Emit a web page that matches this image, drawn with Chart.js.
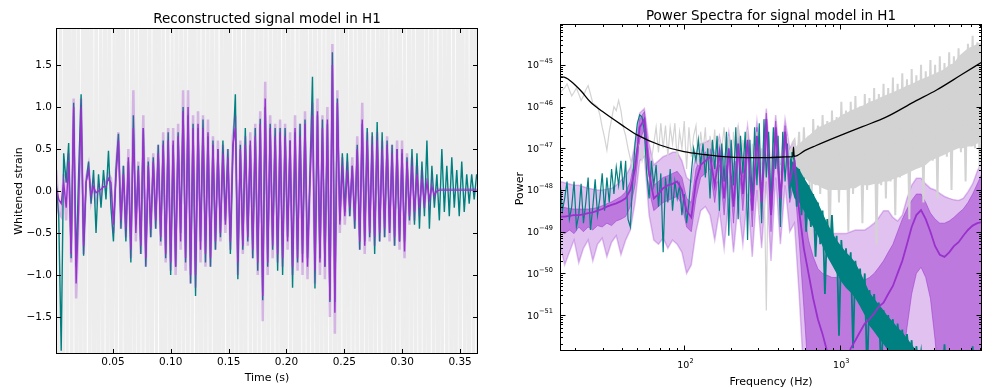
<!DOCTYPE html>
<html>
<head>
<meta charset="utf-8">
<script src="https://cdn.jsdelivr.net/npm/chart.js@4.4.0/dist/chart.umd.min.js"></script>
<style>
  html, body { margin: 0; padding: 0; background: #fff; }
  #wrap { position: relative; width: 1000px; height: 388px; }
  canvas { position: absolute; top: 0; }
  #strainChart { left: 0; }
  #powerChart { left: 500px; }
</style>
</head>
<body>
<div id="wrap">
  <canvas id="strainChart" width="500" height="388"></canvas>
  <canvas id="powerChart" width="500" height="388"></canvas>
</div>
<script>
var FONT = '"DejaVu Sans", sans-serif';

// ---- left panel: whitened strain vs time ----
var strainStart = 0.001, strainStep = 0.00215;
var noiseStart = 0.0008, noiseStep = 0.00193;

// reconstruction from the data (teal)
var dataStrain = [
  0.1,-0.3,-1.9,0.45,0.1,0.57,-0.8,1.05,-0.9,0.2,1.15,-0.77,0.1,0.35,-0.15,0.25,-0.5,0.2,-0.2,0.25,
  -0.1,0.48,-0.2,-0.6,0.25,0.68,-0.45,0.3,-0.6,0.35,-0.85,0.9,-0.4,0.3,-0.75,0.75,-0.9,0.35,-0.55,0.4,
  -0.45,0.55,-0.6,0.6,-0.8,0.7,-1.0,0.55,-0.9,0.7,-0.5,1.0,-0.85,0.9,-1.1,0.8,-1.25,0.75,-0.6,0.85,
  -0.85,0.65,-0.9,0.6,-0.7,0.5,-0.55,0.6,-0.35,0.5,-0.75,0.45,1.15,-1.05,0.55,-0.7,0.75,-0.6,0.55,-0.8,
  0.75,-0.95,0.86,-1.3,1.0,-0.9,0.8,-0.7,0.75,-0.95,0.75,-1.0,0.75,-0.55,0.6,-1.15,0.7,-0.85,0.8,-0.75,
  0.85,-0.8,0.2,1.36,-1.16,0.9,-0.8,0.85,-0.9,0.8,-1.32,1.65,-1.32,1.1,-0.35,0.45,-0.25,0.45,-0.3,0.3,
  -0.45,0.55,-0.7,0.8,-0.6,0.75,-0.55,0.7,-0.75,0.82,-0.6,0.7,-0.55,0.6,-0.5,0.55,-0.65,0.5,-0.6,0.45,
  -0.6,0.4,-0.35,0.5,-0.4,0.45,-0.45,0.35,-0.3,0.6,-0.45,0.3,-0.2,0.2,-0.35,0.5,-0.25,0.3,-0.3,0.4,
  -0.2,0.25,-0.3,0.35,-0.25,0.2,-0.15,0.2,-0.1,0.2
];
// signal model median (purple)
var modelStrain = [
  0.05,-0.1,-0.15,0.1,-0.2,0.35,-0.75,1.0,-1.1,-0.2,1.0,-0.65,0.1,0.25,-0.05,0.05,-0.02,0.0,0.02,0.05,
  0.05,0.15,0.1,-0.4,0.15,0.6,-0.35,0.2,-0.45,0.4,-0.7,0.75,-0.5,0.25,-0.65,0.75,-0.8,0.3,-0.45,0.35,
  -0.35,0.45,-0.55,0.55,-0.75,0.6,-0.85,0.6,-0.9,0.65,-0.6,0.95,-0.8,1.0,-1.0,0.75,-1.0,0.8,-0.7,0.75,
  -0.75,0.7,-0.8,0.55,-0.6,0.5,-0.5,0.45,-0.4,0.4,-0.6,0.55,0.75,-0.85,0.5,-0.65,0.55,-0.55,0.6,-0.7,
  0.65,-0.85,0.8,-1.25,1.1,-0.85,0.75,-0.65,0.65,-0.75,0.7,-0.8,0.65,-0.6,0.6,-0.9,0.75,-0.8,0.65,-0.85,
  0.8,-0.9,0.1,0.9,-0.95,0.95,-0.85,0.75,-0.9,0.85,-1.3,1.5,-1.45,1.05,-0.4,0.3,-0.3,0.25,-0.2,0.3,
  -0.35,0.5,-0.6,0.85,-0.65,0.6,-0.5,0.55,-0.55,0.6,-0.5,0.5,-0.45,0.55,-0.5,0.45,-0.55,0.5,-0.6,0.5,
  -0.72,0.35,-0.3,0.3,-0.25,0.2,-0.2,0.15,-0.15,0.1,-0.1,0.05,-0.05,0.0,0.01,0.01,0.01,0.01,0.01,0.01,
  0.01,0.01,0.01,0.01,0.01,0.01,0.01,0.01,0.01,0.01
];
// outer edge of the model credible band (light purple)
var modelBand = [
  0.25,-0.25,-0.3,0.2,-0.35,0.45,-0.85,1.1,-1.28,-0.3,1.1,-0.75,0.15,0.3,-0.1,0.1,-0.1,0.05,-0.05,0.1,
  0.1,0.2,0.15,-0.5,0.25,0.7,-0.45,0.3,-0.55,0.5,-0.8,1.2,-0.6,0.35,-0.75,0.9,-0.9,0.4,-0.55,0.45,
  -0.45,0.55,-0.65,0.7,-0.85,0.75,-0.95,0.75,-1.0,0.8,-0.7,1.2,-0.95,1.2,-1.1,0.9,-1.15,0.95,-0.85,0.9,
  -0.9,0.85,-0.9,0.65,-0.7,0.6,-0.6,0.55,-0.5,0.5,-0.7,0.65,0.9,-1.0,0.6,-0.75,0.65,-0.65,0.7,-0.8,
  0.8,-1.0,0.95,-1.55,1.3,-1.0,0.9,-0.8,0.8,-0.85,0.85,-0.9,0.8,-0.7,0.7,-1.0,0.9,-0.95,0.8,-1.0,
  0.95,-1.05,0.15,1.05,-1.1,1.1,-1.0,0.9,-1.05,1.0,-1.5,1.75,-1.7,1.2,-0.5,0.4,-0.4,0.35,-0.3,0.4,
  -0.45,0.65,-0.7,1.05,-0.75,0.7,-0.6,0.65,-0.65,0.7,-0.6,0.6,-0.55,0.65,-0.6,0.55,-0.65,0.6,-0.7,0.6,
  -0.8,0.45,-0.4,0.4,-0.35,0.3,-0.3,0.25,-0.2,0.15,-0.15,0.1,-0.08,0.03,0.02,0.02,0.02,0.02,0.02,0.02,
  0.02,0.02,0.02,0.02,0.02,0.02,0.02,0.02,0.02,0.02
];
// whitened detector data (light grey, mostly off the scale)
var whitenedData = [
  3.2,-4.1,2.6,-5.3,4.4,-2.2,3.8,-3.5,5.1,-2.9,2.4,-4.6,3.3,-3.1,6.2,-2.7,2.9,-5.0,3.6,-3.9,
  2.3,-2.6,4.7,-3.3,3.1,-4.4,2.5,-2.4,5.4,-3.8,3.9,-2.8,2.2,-5.6,4.1,-3.0,2.8,-3.6,3.5,-2.5,
  4.9,-4.2,2.7,-3.4,3.0,-2.3,5.8,-3.7,2.6,-4.8,3.4,-2.9,2.1,-3.2,4.5,-5.1,3.7,-2.6,2.9,-3.9,
  3.3,-2.4,5.2,-3.1,2.4,-4.3,3.8,-3.6,2.7,-2.8,4.3,-3.5,3.0,-5.4,2.5,-2.7,6.0,-3.3,3.2,-4.0,
  2.8,-2.5,3.9,-4.7,2.3,-3.0,4.6,-2.8,3.6,-3.8,2.6,-2.4,5.0,-4.5,3.1,-2.9,2.9,-3.4,4.2,-2.6,
  3.4,-5.2,2.5,-3.3,4.8,-2.7,3.0,-3.9,2.2,-4.1,5.5,-2.8,3.7,-3.2,2.6,-2.5,4.0,-4.6,3.2,-3.0,
  2.4,-3.7,4.4,-2.6,3.3,-5.0,2.8,-3.1,5.3,-2.9,2.7,-4.2,3.5,-2.4,2.3,-3.6,4.7,-3.3,3.0,-2.7,
  2.9,-4.9,3.8,-3.1,2.5,-2.6,5.6,-3.8,3.1,-4.4,2.6,-2.8,4.1,-3.5,3.4,-2.5,2.2,-5.3,4.6,-3.0,
  2.8,-3.4,3.6,-2.9,5.1,-4.0,2.4,-3.2,3.9,-2.6,3.0,-4.7,2.7,-3.0,4.3,-2.8,3.2,-3.7,2.5,-4.1,
  3.5,-2.7,4.8,-3.3,2.6,-3.9,3.1,-2.5,5.0,-4.3
];
var timeTicks = [0.05, 0.10, 0.15, 0.20, 0.25, 0.30, 0.35];
var timeTickLabels = ['0.05', '0.10', '0.15', '0.20', '0.25', '0.30', '0.35'];
var strainTicks = [-1.5, -1.0, -0.5, 0.0, 0.5, 1.0, 1.5];
var strainTickLabels = ['\u22121.5', '\u22121.0', '\u22120.5', '0.0', '0.5', '1.0', '1.5'];

// ---- right panel: power spectra ----
// fine grid: 20 points per octave from 16 Hz, band grid: 10 points per octave
var fineCount = 181, finePerOctave = 20;
var bandCount = 91, bandPerOctave = 10;
var denseFrom = 49; // band-grid index (~478 Hz) where the spectra turn into a dense mass

var dataPower = [
  2e-46,2.5e-46,2.8e-46,3.5e-46,2.5e-46,1.8e-46,2.2e-46,2.8e-46,2e-46,1.4e-46,
  1.8e-46,2.5e-46,3.2e-46,2e-46,1.2e-46,1.1e-46,1e-46,6.3e-47,3.2e-47,1.8e-47,
  9e-48,2.5e-47,5e-47,1e-46,8e-47,1.4e-46,8e-47,3.2e-47,2e-47,1e-47,
  5.6e-48,3.5e-48,8e-48,1.4e-47,1.1e-47,5e-48,1e-47,3.2e-48,1.6e-48,5e-48,
  1.3e-47,3.2e-47,8e-48,4e-47,1e-47,3.5e-47,6.3e-48,3.2e-47,1.3e-47,4e-47,
  5e-48,2.5e-47,1e-47,4.5e-47,3.2e-48,3.2e-47,6.3e-48,2e-47,3.5e-47,4e-48,
  2.5e-47,8e-48,3.2e-47,2.5e-48,2e-47,6.3e-48,2.8e-47,1.6e-48,1.6e-47,1e-47,
  3.2e-47,4e-48,2e-47,1.3e-48,2.5e-47,5e-48,3.5e-47,2e-48,1.6e-47,6.3e-48,
  2.8e-47,6.3e-49,1.3e-47,3.2e-48,2.5e-47,2.5e-49,1e-47,4e-48,1.3e-51,2e-47,
  2.5e-48,2.5e-47,5e-48,1.8e-47,1e-48,1.3e-47,3.2e-48,2e-47,1.6e-48,1.3e-47,
  1.6e-47,2.5e-48,2.5e-47,4e-49,3.2e-47,2e-48,2e-47,6.3e-50,5e-47,1.3e-48,
  3.5e-47,8e-49,6.3e-47,1.6e-48,4.5e-47,3.2e-50,8e-47,1e-48,5.6e-47,5e-49,
  1.3e-46,1.3e-48,8e-47,1e-49,1.3e-46,8e-49,1.8e-46,1.3e-48,1e-46,1.6e-49,
  2e-46,1e-48,1.6e-46,1.6e-48,2.8e-46,5e-50,2e-46,1.3e-48,3.5e-46,6.3e-49,
  2.8e-46,1.6e-48,5e-46,2.5e-49,3.5e-46,2e-48,6.3e-46,2.5e-48,4.5e-46,2e-49,
  8e-46,3.2e-48,5.6e-46,4e-48,1e-45,5e-49,7e-46,5e-48,1.3e-45,5e-48,
  1e-45,6.3e-49,1.6e-45,8e-48,1.1e-45,6.3e-48,2e-45,1e-48,1.6e-45,1e-47,
  2.5e-45,8e-48,1.8e-45,1.6e-48,3.2e-45,1.3e-47,5e-45,1e-47,3.5e-45,3.2e-48,
  5e-45
];
// solid core of the dense data spectrum, on the band grid from denseFrom
var dataPowerTop = [
  1e-47,1e-47,1.3e-47,1.6e-47,2e-47,2.5e-47,3.2e-47,3.5e-47,4e-47,4.5e-47,
  5e-47,6.3e-47,7e-47,8e-47,9e-47,1e-46,1.1e-46,1.3e-46,1.4e-46,1.6e-46,
  1.8e-46,2e-46,2.2e-46,2.5e-46,2.8e-46,3.2e-46,3.5e-46,4e-46,4.5e-46,5e-46,
  5.6e-46,6.3e-46,7e-46,8e-46,1e-45,1.1e-45,1.6e-45,2e-45,2.5e-45,2.8e-45,
  3.2e-45,3.5e-45
];
var dataPowerBottom = [
  5e-48,3.2e-48,2.5e-48,2e-48,1.6e-48,1.4e-48,1.3e-48,1.1e-48,1e-48,1e-48,
  1e-48,1e-48,1e-48,1.1e-48,1.1e-48,1.3e-48,1.3e-48,1.3e-48,1.4e-48,1.4e-48,
  1.6e-48,1.6e-48,1.8e-48,2e-48,2.2e-48,2.5e-48,2.8e-48,3.2e-48,3.5e-48,4e-48,
  5e-48,5.6e-48,6.3e-48,7e-48,8e-48,9e-48,1e-47,1e-47,1.1e-47,1.1e-47,
  1.3e-47,1.3e-47
];
var reconPower = [
  1.6e-48,3.2e-49,6.3e-49,1.6e-48,2e-49,4e-49,1.6e-48,1.3e-49,2.5e-49,1.4e-48,
  1.6e-49,5e-49,2e-48,1.1e-49,4e-49,1.8e-48,2.5e-49,6.3e-49,2.5e-48,3.2e-49,
  2e-48,5e-49,3.2e-48,8e-49,3.5e-48,1.3e-48,5e-48,1e-48,5e-48,2e-49,
  1.3e-49,1.6e-48,1.3e-47,4e-47,6.3e-47,5.6e-47,2.5e-47,2.5e-48,6.3e-49,5e-48,
  1.3e-48,4e-48,4e-49,2.5e-48,3.2e-50,2e-48,5e-49,3.2e-48,3.2e-49,1.6e-48,
  6.3e-49,1.3e-48,2.5e-49,8e-49,1.6e-49,5e-49,2.5e-48,1e-47,5e-48,1.6e-47,
  4e-48,1.3e-47,2e-48,1e-47,6.3e-49,1.6e-47,3.2e-48,2e-47,3.2e-49,1.3e-47,
  1.6e-48,2.5e-47,8e-50,1.6e-47,1.3e-48,3.2e-47,2e-49,2e-47,2.5e-48,2.5e-47,
  6.3e-50,1.6e-47,5e-49,3.2e-47,1.3e-48,4e-47,1.6e-49,5e-47,2e-48,2.5e-47,
  4e-49,3.2e-47,3.2e-48,2e-47,1.3e-49,2.5e-47,1.6e-48,1.3e-47,6.3e-49,8e-48,
  5e-48,4e-49,3.2e-48,2.5e-49,2e-48,1e-49,1.3e-48,1.3e-49,8e-49,2.5e-50,
  5e-49,5e-50,3.2e-49,3.2e-51,2e-49,2.5e-50,2.5e-49,1.6e-50,8e-50,3.2e-52,
  6.3e-50,8e-51,4e-50,5e-51,3.2e-50,1.6e-52,2e-50,3.2e-51,1.3e-50,1.6e-51,
  1e-50,3.2e-53,4e-51,8e-52,3.2e-51,5e-52,2e-51,3.2e-53,1.3e-51,2.5e-52,
  1e-51,2e-52,8e-52,2.5e-53,6.3e-52,1.6e-52,4.5e-52,4e-53,3.5e-52,1e-52,
  2.5e-52,2.5e-53,1.8e-52,5e-53,1.3e-52,2.5e-53,1.1e-52,2.5e-53,6.3e-53,2e-53,
  5e-53,1.6e-53,4e-53,1.6e-53,2e-52,1.6e-53,3.2e-53,1.3e-53,2.5e-53,1.3e-53,
  2.5e-53,1e-53,2e-53,1e-53,2e-53,1e-53,1.8e-52,1e-53,1.6e-53,1e-53,
  1.6e-53
];
// solid core of the dense reconstruction spectrum, on the band grid from denseFrom
var reconPowerTop = [
  6.3e-48,4e-48,3.2e-48,2e-48,1.3e-48,8e-49,5e-49,2.8e-49,1.6e-49,1e-49,
  6.3e-50,4.5e-50,3.2e-50,2.5e-50,1.8e-50,1.1e-50,6.3e-51,3.5e-51,2.5e-51,1.8e-51,
  1.3e-51,9e-52,7e-52,5e-52,4e-52,2.8e-52,2e-52,1.4e-52,1e-52,6.3e-53,
  3.2e-53,3.2e-53,3.2e-53,3.2e-53,3.2e-53,3.2e-53,3.2e-53,3.2e-53,3.2e-53,3.2e-53,
  3.2e-53,3.2e-53
];
var reconPowerBottom = [
  1.6e-48,6.3e-49,5e-49,3.2e-49,2e-49,1.3e-49,8e-50,4.5e-50,2.5e-50,1.6e-50,
  1e-50,6.3e-51,4.5e-51,3.5e-51,2.5e-51,1.6e-51,1e-51,5.6e-52,4e-52,2.8e-52,
  2e-52,1.4e-52,1e-52,3.2e-53,3.2e-53,3.2e-53,3.2e-53,3.2e-53,3.2e-53,3.2e-53,
  3.2e-53,3.2e-53,3.2e-53,3.2e-53,3.2e-53,3.2e-53,3.2e-53,3.2e-53,3.2e-53,3.2e-53,
  3.2e-53,3.2e-53
];
var modelMedian = [
  2.3e-49,2.3e-49,2.4e-49,2.5e-49,2.5e-49,2.6e-49,2.8e-49,2.9e-49,3.2e-49,3.5e-49,
  4e-49,4.4e-49,4.8e-49,5.4e-49,6.3e-49,1e-48,3.2e-48,3.2e-47,5e-47,2.5e-48,
  6.3e-49,8e-49,1.1e-48,1.3e-48,1.4e-48,1.6e-48,1e-48,3.2e-49,2.2e-49,1.6e-48,
  4e-48,5e-48,6.3e-48,1.3e-48,8e-48,6.3e-49,1e-47,4e-49,1.3e-47,8e-49,
  1.6e-47,3.2e-49,2e-47,5e-49,5e-47,2.5e-49,3.2e-47,6.3e-49,2.5e-47,1.6e-48,
  5e-48,3.2e-49,4e-50,1e-50,2.5e-51,8e-52,3.5e-52,1.3e-52,6.3e-53,4e-53,
  3.2e-53,6.3e-53,1.6e-52,2.5e-52,4e-52,6.3e-52,8e-52,1.1e-51,1.6e-51,2e-51,
  3.2e-51,5e-51,1e-50,2e-50,5e-50,1.3e-49,2.5e-49,3.3e-49,2e-49,1e-49,
  4.5e-50,2.8e-50,2.5e-50,3.2e-50,4.5e-50,5.6e-50,8e-50,1.1e-49,1.4e-49,1.6e-49,
  1.7e-49
];
var modelHi50 = [
  4e-49,3.8e-49,3.6e-49,3.5e-49,3.5e-49,3.5e-49,3.5e-49,3.6e-49,3.8e-49,4.2e-49,
  4.7e-49,5.2e-49,6e-49,7e-49,9e-49,1.6e-48,6.3e-48,5e-47,7.6e-47,6.3e-48,
  1.3e-48,1.6e-48,2e-48,2.2e-48,2.5e-48,2.8e-48,2e-48,6.3e-49,5e-49,3.2e-48,
  6.3e-48,8e-48,1e-47,3.2e-48,1.3e-47,1.6e-48,1.6e-47,1.3e-48,2e-47,2e-48,
  2.5e-47,1e-48,3.2e-47,1.3e-48,7e-47,8e-49,4.5e-47,1.6e-48,3.5e-47,4e-48,
  1e-47,1.6e-48,3.2e-49,6.3e-50,2.5e-50,1.3e-50,1e-50,9e-51,8e-51,8e-51,
  8e-51,7.6e-51,7e-51,7e-51,7e-51,7e-51,8e-51,1e-50,1.4e-50,2e-50,
  3.2e-50,5e-50,1e-49,2e-49,3.5e-49,5.6e-49,8e-49,8e-49,5e-49,2.8e-49,
  2e-49,1.6e-49,1.6e-49,1.8e-49,2.2e-49,2.8e-49,3.5e-49,5e-49,8e-49,1.4e-48,
  2.5e-48
];
var modelLo50 = [
  1e-49,9e-50,1.1e-49,9e-50,1.3e-49,1e-49,1.3e-49,1.1e-49,1.4e-49,1.3e-49,
  1.6e-49,1.4e-49,1.8e-49,2e-49,2.3e-49,4e-49,1.3e-48,1.6e-47,2.8e-47,1e-48,
  3.2e-49,4e-49,5e-49,5.6e-49,6.3e-49,7e-49,4.5e-49,1.3e-49,1e-49,6.3e-49,
  2e-48,2.5e-48,3.2e-48,5e-49,4e-48,2.5e-49,5e-48,1.6e-49,6.3e-48,3.2e-49,
  8e-48,1.3e-49,1e-47,2e-49,2.5e-47,1e-49,1.6e-47,2.5e-49,1.3e-47,5e-49,
  1.6e-48,6.3e-50,1.6e-51,3.2e-53,1e-54,1e-54,1e-54,1e-54,1e-54,1e-54,
  1e-54,1e-54,1e-54,1e-54,1e-54,1e-54,1e-54,1e-54,1e-54,1e-54,
  1e-54,1e-54,1e-54,6.3e-53,5e-52,3.2e-51,1e-50,1.4e-50,8e-51,2.5e-51,
  2.5e-52,1e-53,1e-54,1e-54,1e-54,1e-54,1e-54,1e-54,1e-54,1e-54,
  1e-54
];
var modelHi90 = [
  1.6e-48,1.5e-48,1.4e-48,1.3e-48,1.3e-48,1.2e-48,1.1e-48,1.05e-48,1e-48,1e-48,
  1.05e-48,1.1e-48,1.3e-48,1.7e-48,2.2e-48,3.5e-48,1.3e-47,7e-47,9e-47,1.3e-47,
  4e-48,5e-48,6.3e-48,7e-48,8e-48,8e-48,5e-48,2e-48,1.6e-48,8e-48,
  1.3e-47,1.4e-47,1.6e-47,8e-48,2e-47,5e-48,2.5e-47,4e-48,3.2e-47,5e-48,
  3.5e-47,3.2e-48,4.5e-47,4e-48,9e-47,2.5e-48,6.3e-47,4e-48,5e-47,1e-47,
  1.6e-47,3.2e-48,1e-48,3.2e-49,1.8e-49,1.3e-49,1e-49,9e-50,9e-50,9e-50,
  9e-50,9e-50,1e-49,1.1e-49,1.1e-49,1.1e-49,1.3e-49,1.6e-49,2.2e-49,3.2e-49,
  3.2e-49,2.2e-49,1.8e-49,2.5e-49,6.3e-49,1.3e-48,1.9e-48,1.9e-48,1.4e-48,1.1e-48,
  1e-48,8.3e-49,7e-49,6.3e-49,5.8e-49,5.6e-49,6.3e-49,9e-49,1.4e-48,2.8e-48,
  5e-48
];
var modelLo90 = [
  5e-50,1.6e-50,3.2e-50,6.3e-50,1.8e-50,4e-50,6.3e-50,2e-50,5e-50,7e-50,
  2.5e-50,5.6e-50,8e-50,2.8e-50,6.3e-50,1.1e-49,5e-49,5e-48,6.3e-48,2.5e-49,
  6.3e-50,5e-50,7e-50,4e-50,6.3e-50,5e-50,3.2e-50,1e-50,1.6e-50,1e-49,
  3.2e-49,4e-49,2.5e-49,6.3e-50,3.2e-49,4e-50,6.3e-49,3.2e-50,5e-49,5e-50,
  8e-49,2.5e-50,1e-48,4e-50,1.6e-48,2e-50,2e-48,5e-50,1.3e-48,1e-49,
  1.6e-49,3.2e-51,3.2e-53,1e-54,1e-54,1e-54,1e-54,1e-54,1e-54,1e-54,
  1e-54,1e-54,1e-54,1e-54,1e-54,1e-54,1e-54,1e-54,1e-54,1e-54,
  1e-54,1e-54,1e-54,1e-54,1e-54,1e-54,1e-54,1e-54,1e-54,1e-54,
  1e-54,1e-54,1e-54,1e-54,1e-54,1e-54,1e-54,1e-54,1e-54,1e-54,
  1e-54
];
// noise PSD (black curve)
var asdFreq = [16, 17, 18, 20, 22, 25, 30, 40, 50, 70, 100, 140, 180, 250, 350, 450, 500, 505, 510, 600, 700, 966, 1400, 2013, 3000, 4188, 6000, 8192];
var asdPower = [5.2e-46, 5.1e-46, 4.6e-46, 3.3e-46, 2.3e-46, 1.3e-46, 7.6e-47, 3.6e-47, 2.1e-47, 1.2e-47, 8.3e-48, 7e-48, 6.3e-48, 6e-48, 6e-48, 6.2e-48, 6.3e-48, 1.07e-47, 6.4e-48, 8.9e-48, 1.15e-47, 1.9e-47, 3.3e-47, 5.75e-47, 1.3e-46, 2.5e-46, 5.7e-46, 1.17e-45];

var freqTicks = [100, 1000];
var freqTickExps = ['2', '3'];
var powerTicks = [1e-51, 1e-50, 1e-49, 1e-48, 1e-47, 1e-46, 1e-45];
var powerTickExps = ['\u221251', '\u221250', '\u221249', '\u221248', '\u221247', '\u221246', '\u221245'];

// ---- helpers ----
function pairs(xs, ys) {
  return ys.map(function (y, i) { return { x: xs[i], y: y }; });
}
function regular(start, step, n) {
  var out = [];
  for (var i = 0; i < n; i++) out.push(start + i * step);
  return out;
}
function octaves(start, perOctave, n) {
  var out = [];
  for (var i = 0; i < n; i++) out.push(start * Math.pow(2, i / perOctave));
  return out;
}
function logMinors(lo, hi) {
  var out = [];
  for (var e = Math.floor(Math.log10(lo)) - 1; e <= Math.ceil(Math.log10(hi)); e++) {
    for (var m = 2; m <= 9; m++) {
      var v = m * Math.pow(10, e);
      if (v > lo && v < hi) out.push(v);
    }
  }
  return out;
}
// dense part of a spectrum (above ~480 Hz) is drawn with a heavier stroke
function denseWidth(thin, thick) {
  return function (c) { return c.p0.parsed.x >= 480 ? thick : thin; };
}

function axisFrame(cfg) {
  return {
    id: 'axisFrame',
    afterDraw: function (chart) {
      var ctx = chart.ctx, a = chart.chartArea;
      var sx = chart.scales.x, sy = chart.scales.y;
      var L = Math.round(a.left) + 0.5, R = Math.round(a.right) - 0.5;
      var T = Math.round(a.top) + 0.5, B = Math.round(a.bottom) - 0.5;
      ctx.save();
      ctx.strokeStyle = '#000';
      ctx.lineWidth = 1;
      ctx.beginPath();
      function xTick(v, len) {
        var p = Math.round(sx.getPixelForValue(v)) + 0.5;
        ctx.moveTo(p, B); ctx.lineTo(p, B - len);
        ctx.moveTo(p, T); ctx.lineTo(p, T + len);
      }
      function yTick(v, len) {
        var p = Math.round(sy.getPixelForValue(v)) + 0.5;
        ctx.moveTo(L, p); ctx.lineTo(L + len, p);
        ctx.moveTo(R, p); ctx.lineTo(R - len, p);
      }
      cfg.xMajor.forEach(function (v) { xTick(v, cfg.major); });
      (cfg.xMinor || []).forEach(function (v) { xTick(v, cfg.minor); });
      cfg.yMajor.forEach(function (v) { yTick(v, cfg.major); });
      (cfg.yMinor || []).forEach(function (v) { yTick(v, cfg.minor); });
      ctx.stroke();
      ctx.strokeRect(L, T, R - L, B - T);
      ctx.fillStyle = '#000';
      cfg.labels(ctx, a, sx, sy);
      ctx.restore();
    }
  };
}

function drawPow(ctx, exp, x, y, anchor) {
  ctx.font = '9.5px ' + FONT;
  var wb = ctx.measureText('10').width;
  ctx.font = '6.6px ' + FONT;
  var we = ctx.measureText(exp).width;
  var x0 = anchor === 'right' ? x - wb - we : x - (wb + we) / 2;
  ctx.textAlign = 'left';
  ctx.textBaseline = 'middle';
  ctx.font = '9.5px ' + FONT;
  ctx.fillText('10', x0, y);
  ctx.font = '6.6px ' + FONT;
  ctx.fillText(exp, x0 + wb, y - 4.5);
}

function rotated(ctx, text, x, y) {
  ctx.save();
  ctx.translate(x, y);
  ctx.rotate(-Math.PI / 2);
  ctx.textAlign = 'center';
  ctx.textBaseline = 'alphabetic';
  ctx.fillText(text, 0, 0);
  ctx.restore();
}

var baseOptions = function (padding, xScale, yScale) {
  return {
    responsive: false,
    animation: false,
    events: [],
    layout: { padding: padding },
    plugins: { legend: { display: false }, tooltip: { enabled: false } },
    scales: { x: xScale, y: yScale },
    elements: { point: { radius: 0 }, line: { tension: 0 } }
  };
};

// ---- left chart ----
var strainTime = regular(strainStart, strainStep, dataStrain.length);
var noiseTime = regular(noiseStart, noiseStep, whitenedData.length);

new Chart(document.getElementById('strainChart'), {
  type: 'line',
  data: {
    datasets: [
      { data: pairs(strainTime, modelStrain), borderColor: '#9932cc', borderWidth: 1.4, order: 0, clip: 0 },
      { data: pairs(strainTime, modelBand), borderColor: 'rgba(153,50,204,0.3)', borderWidth: 2.5, order: 1, clip: 0 },
      { data: pairs(strainTime, dataStrain), borderColor: '#008080', borderWidth: 1.4, order: 2, clip: 0 },
      { data: pairs(noiseTime, whitenedData), borderColor: '#ededed', borderWidth: 2.9, order: 3, clip: 0 }
    ]
  },
  options: baseOptions(
    { left: 56, top: 28, right: 22, bottom: 34 },
    { type: 'linear', min: 0.0008, max: 0.3655, display: false },
    { type: 'linear', min: -1.94, max: 1.94, display: false }
  ),
  plugins: [axisFrame({
    xMajor: timeTicks, yMajor: strainTicks, major: 4.5, minor: 0,
    labels: function (ctx, a, sx, sy) {
      ctx.font = '10.5px ' + FONT;
      ctx.textAlign = 'center';
      ctx.textBaseline = 'middle';
      timeTicks.forEach(function (v, k) { ctx.fillText(timeTickLabels[k], sx.getPixelForValue(v), a.bottom + 8.5); });
      ctx.textAlign = 'right';
      strainTicks.forEach(function (v, k) { ctx.fillText(strainTickLabels[k], a.left - 4, sy.getPixelForValue(v)); });
      ctx.font = '13.5px ' + FONT;
      ctx.textAlign = 'center';
      ctx.textBaseline = 'alphabetic';
      ctx.fillText('Reconstructed signal model in H1', (a.left + a.right) / 2, 22.7);
      ctx.font = '11px ' + FONT;
      ctx.fillText('Time (s)', (a.left + a.right) / 2, 380.5);
      rotated(ctx, 'Whitened strain', 21.5, (a.top + a.bottom) / 2);
    }
  })]
});

// ---- right chart ----
var fineFreq = octaves(16, finePerOctave, fineCount);
var bandFreq = octaves(16, bandPerOctave, bandCount);
var denseFreq = bandFreq.slice(denseFrom);
var darkBand = 'rgba(153,50,204,0.5)';
var lightBand = 'rgba(153,50,204,0.3)';

new Chart(document.getElementById('powerChart'), {
  type: 'line',
  data: {
    datasets: [
      { data: pairs(asdFreq, asdPower), borderColor: '#000', borderWidth: 1.3, cubicInterpolationMode: 'monotone', order: 0, clip: 0 },
      { data: pairs(bandFreq, modelMedian), borderColor: '#9932cc', borderWidth: 1.8, order: 1, clip: 0 },
      { data: pairs(fineFreq, reconPower), borderColor: '#008080', borderWidth: 1.2, order: 2, clip: 0,
        segment: { borderWidth: denseWidth(1.2, 1.8) } },
      { data: pairs(fineFreq, dataPower), borderColor: '#d3d3d3', borderWidth: 1.2, order: 4, clip: 0,
        segment: { borderWidth: denseWidth(1.2, 2.0) } },
      { data: pairs(bandFreq, modelLo50), borderColor: darkBand, borderWidth: 1, fill: false, order: 6, clip: 0 },
      { data: pairs(bandFreq, modelHi50), borderColor: darkBand, backgroundColor: darkBand, borderWidth: 1, fill: 4, order: 6, clip: 0 },
      { data: pairs(bandFreq, modelLo90), borderColor: lightBand, borderWidth: 1.5, fill: false, order: 7, clip: 0 },
      { data: pairs(bandFreq, modelHi90), borderColor: lightBand, backgroundColor: lightBand, borderWidth: 1.5, fill: 6, order: 7, clip: 0 },
      { data: pairs(denseFreq, reconPowerBottom), borderWidth: 0, fill: false, order: 3, clip: 0 },
      { data: pairs(denseFreq, reconPowerTop), borderWidth: 0, backgroundColor: '#008080', fill: 8, order: 3, clip: 0 },
      { data: pairs(denseFreq, dataPowerBottom), borderWidth: 0, fill: false, order: 5, clip: 0 },
      { data: pairs(denseFreq, dataPowerTop), borderWidth: 0, backgroundColor: '#d3d3d3', fill: 10, order: 5, clip: 0 }
    ]
  },
  options: baseOptions(
    { left: 60, top: 24, right: 18, bottom: 37 },
    { type: 'logarithmic', min: 16, max: 8192, display: false },
    { type: 'logarithmic', min: 1.38e-52, max: 9.55e-45, display: false }
  ),
  plugins: [axisFrame({
    xMajor: freqTicks, yMajor: powerTicks, major: 5, minor: 2.5,
    xMinor: logMinors(16, 8192), yMinor: logMinors(1.38e-52, 9.55e-45),
    labels: function (ctx, a, sx, sy) {
      freqTicks.forEach(function (v, k) { drawPow(ctx, freqTickExps[k], sx.getPixelForValue(v) + 1.5, a.bottom + 14.5, 'center'); });
      powerTicks.forEach(function (v, k) { drawPow(ctx, powerTickExps[k], a.left - 7, sy.getPixelForValue(v) + 1, 'right'); });
      ctx.fillStyle = '#000';
      ctx.font = '13.5px ' + FONT;
      ctx.textAlign = 'center';
      ctx.textBaseline = 'alphabetic';
      ctx.fillText('Power Spectra for signal model in H1', (a.left + a.right) / 2, 19.7);
      ctx.font = '11px ' + FONT;
      ctx.fillText('Frequency (Hz)', (a.left + a.right) / 2, 384.5);
      rotated(ctx, 'Power', 22.5, (a.top + a.bottom) / 2 + 1);
    }
  })]
});
</script>
</body>
</html>
